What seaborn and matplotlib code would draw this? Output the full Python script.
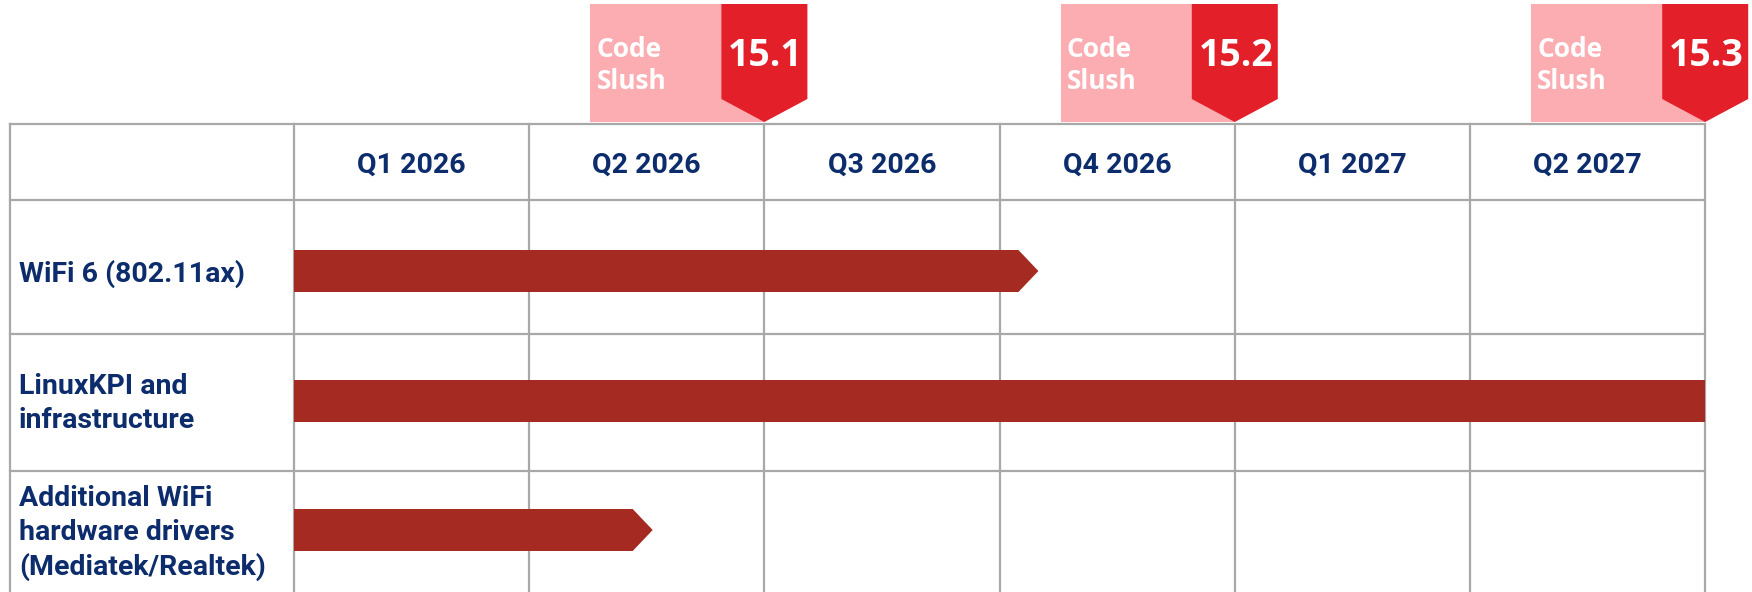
import matplotlib
matplotlib.use("Agg")
import matplotlib.pyplot as plt
import seaborn as sns
import pandas as pd
from matplotlib.patches import Polygon, Rectangle

# ---------------- data ----------------
quarters = ["Q1 2026", "Q2 2026", "Q3 2026", "Q4 2026", "Q1 2027", "Q2 2027"]
tasks = ["WiFi 6 (802.11ax)",
         "LinuxKPI and\ninfrastructure",
         "Additional WiFi\nhardware drivers\n(Mediatek/Realtek)"]
task_start = [0.0, 0.0, 0.0]          # in quarters from Q1 2026
task_end = [3.08, 6.0, 1.44]
releases = ["15.1", "15.2", "15.3"]
release_at = [2.0, 4.0, 6.0]          # quarter boundary of each release
slush_start = [1.26, 3.26, 5.26]      # code slush begins

# ---------------- style ----------------
NAVY = "#0c2c6c"
BAR = "#a52a21"
PINK = "#fcadb2"
RED = "#e3202a"
GRID = "#a8a8a8"

W, H = 1752, 592
X0_PX, Q_PX = 294.0, 235.2      # pixel of Q1 2026 start, pixels per quarter
Y0_PX, ROW_PX = 271.0, 129.5    # pixel of first bar center, pixels per row


def qx(px):
    return (px - X0_PX) / Q_PX


def py(px):
    return (px - Y0_PX) / ROW_PX


sns.set_style("white")
plt.rcParams["font.family"] = ["Roboto", "DejaVu Sans"]

fig = plt.figure(figsize=(W / 100, H / 100), dpi=100)
ax = fig.add_axes([0, 0, 1, 1])

df = pd.DataFrame({"task": tasks, "start": task_start, "end": task_end})
sns.barplot(data=df, x="end", y="task", orient="h", color=BAR, saturation=1,
            width=42 / ROW_PX, linewidth=0, errorbar=None, ax=ax)

n_q = len(quarters)
TIP = 20 / Q_PX
OVL = 2 / Q_PX
for p, s, e in zip(ax.patches[:len(tasks)], task_start, task_end):
    p.set_x(s)
    p.set_width(e - s)
    p.set_zorder(3)
    if e < n_q:
        y0, h = p.get_y(), p.get_height()
        ax.add_patch(Polygon([(e - OVL, y0), (e, y0), (e + TIP, y0 + h / 2),
                              (e, y0 + h), (e - OVL, y0 + h)],
                             closed=True, fc=BAR, ec="none", zorder=3))

# ---------------- table grid ----------------
left = qx(10)
table_top = py(124)
h_lines = [py(124), py(200), py(334), py(471)]
bottom = py(H + 10)
for yv in h_lines:
    ax.plot([left, n_q], [yv, yv], color=GRID, lw=1.6, zorder=1,
            solid_capstyle="projecting")
for xv in [left] + list(range(n_q + 1)):
    ax.plot([xv, xv], [table_top, bottom], color=GRID, lw=1.6, zorder=1,
            solid_capstyle="projecting")

# header labels
for i, q in enumerate(quarters):
    ax.text(i + 0.5, py(173), q, ha="center", va="baseline", fontsize=20.5,
            fontweight="bold", color=NAVY, zorder=4)

# row labels
PITCH, CAP = 34, 21
for i, t in enumerate(tasks):
    lines = t.split("\n")
    block = CAP + (len(lines) - 1) * PITCH
    first = Y0_PX + i * ROW_PX - block / 2 + CAP
    for k, ln in enumerate(lines):
        ax.text(qx(19), py(first + k * PITCH), ln, ha="left", va="baseline",
                fontsize=20.5, fontweight="bold", color=NAVY, zorder=4)

# ---------------- release markers ----------------
HW = 43 / Q_PX
for name, r, s in zip(releases, release_at, slush_start):
    ax.add_patch(Rectangle((s, py(4)), r - s, py(122) - py(4), fc=PINK,
                           ec="none", zorder=2))
    ax.add_patch(Polygon([(r - HW, py(4)), (r + HW, py(4)), (r + HW, py(99)),
                          (r, py(122)), (r - HW, py(99))], closed=True,
                         fc=RED, ec="none", zorder=2.5))
    ax.text(s + 6 / Q_PX, py(57), "Code", ha="left", va="baseline",
            fontsize=19, fontweight="bold", color="white",
            family=["Open Sans", "DejaVu Sans"], zorder=4)
    ax.text(s + 6 / Q_PX, py(89), "Slush", ha="left", va="baseline",
            fontsize=19, fontweight="bold", color="white",
            family=["Open Sans", "DejaVu Sans"], zorder=4)
    ax.text(r + 1 / Q_PX, py(66), name, ha="center", va="baseline",
            fontsize=27, fontweight="bold", color="white",
            family=["Open Sans", "DejaVu Sans"], zorder=4)

ax.set_xlim(qx(0), qx(W))
ax.set_ylim(py(H), py(0))
ax.axis("off")

fig.savefig("out.png", dpi=100)
